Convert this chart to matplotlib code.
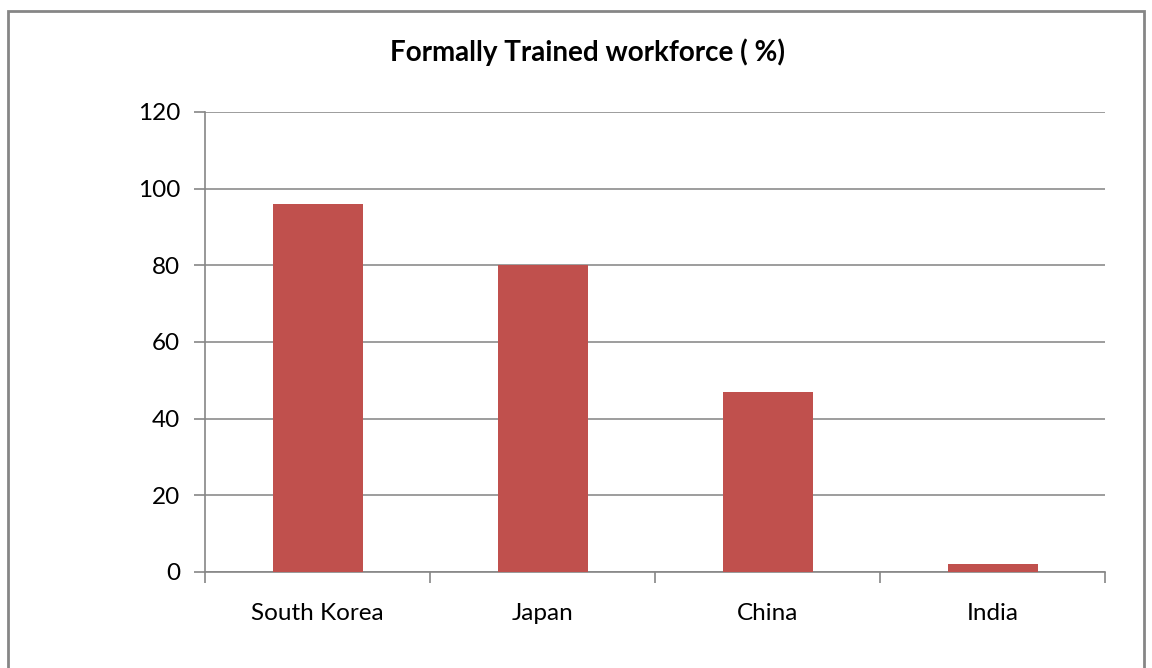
import matplotlib.pyplot as plt
from matplotlib.patches import Rectangle

countries = ['South Korea', 'Japan', 'China', 'India']
trained_pct = [96, 80, 47, 2]
y_ticks = [0, 20, 40, 60, 80, 100, 120]

plt.rcParams['font.family'] = ['Lato', 'DejaVu Sans']

fig = plt.figure(figsize=(11.52, 6.68), dpi=100)
W, H = 1152, 668
ax = fig.add_axes([205 / W, 1 - 572 / H, 900 / W, 460 / H])

# outer chart border
fig.patches.append(Rectangle((8 / W, -0.01), 1136 / W, 1 - 11 / H + 0.01,
                             transform=fig.transFigure, fill=False,
                             edgecolor='#868686', linewidth=2))

x = list(range(len(countries)))
ax.bar(x, trained_pct, width=0.4, color='#C0504D', zorder=3)

ax.set_xlim(-0.5, len(countries) - 0.5)
ax.set_ylim(0, 120)
ax.set_yticks(y_ticks)
ax.set_yticklabels([str(v) for v in y_ticks], fontsize=17.5)
ax.set_xticks(x)
ax.set_xticklabels(countries, fontsize=17.5)
ax.set_xticks([i - 0.5 for i in range(len(countries) + 1)], minor=True)

ax.yaxis.grid(True, color='#8c8c8c', linewidth=1.2, zorder=0)
ax.tick_params(axis='y', length=8, width=1.2, color='#868686', pad=10)
ax.tick_params(axis='x', which='major', length=0, pad=22)
ax.tick_params(axis='x', which='minor', length=8, width=1.2, color='#868686')

for side in ['top', 'right']:
    ax.spines[side].set_visible(False)
for side in ['left', 'bottom']:
    ax.spines[side].set_color('#868686')
    ax.spines[side].set_linewidth(1.2)

fig.text(588 / W, 1 - 52 / H, 'Formally Trained workforce ( %)', ha='center',
         va='center', fontsize=20, fontweight='bold')

plt.savefig('out.png', dpi=100)
